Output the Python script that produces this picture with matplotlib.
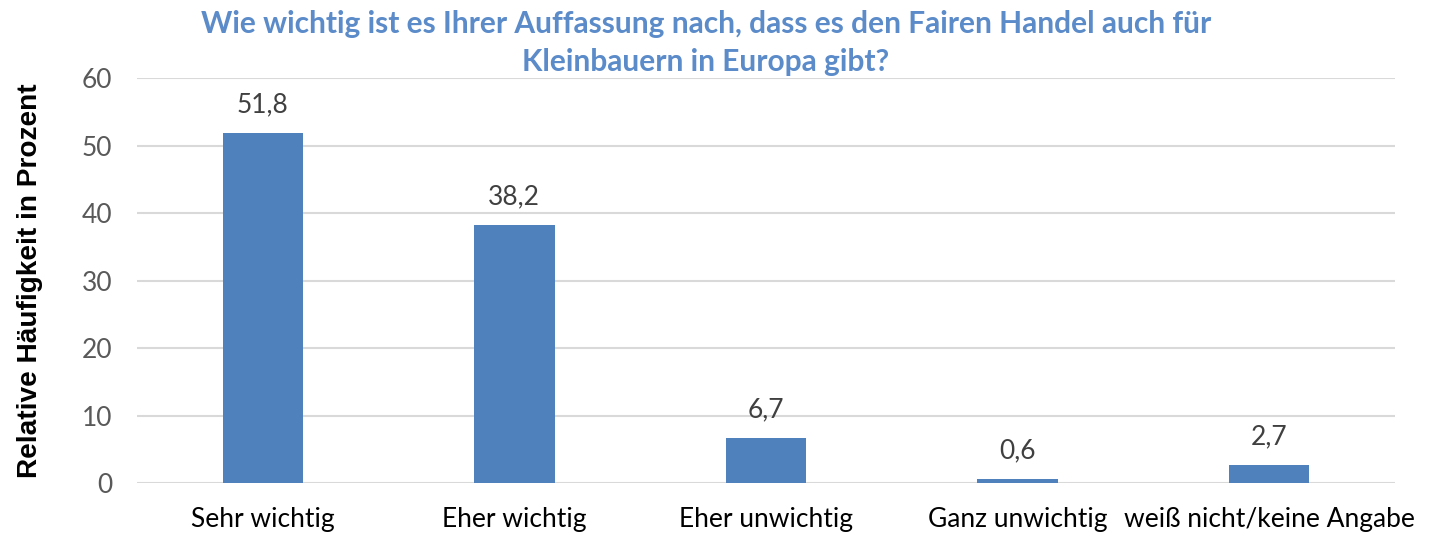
import numpy as np
import matplotlib
matplotlib.use('Agg')
import matplotlib.pyplot as plt

categories = ['Sehr wichtig', 'Eher wichtig', 'Eher unwichtig', 'Ganz unwichtig', 'weiß nicht/keine Angabe']
values = [51.8, 38.2, 6.7, 0.6, 2.7]
value_labels = ['51,8', '38,2', '6,7', '0,6', '2,7']
yticks = [0, 10, 20, 30, 40, 50, 60]

plt.rcParams['font.family'] = ['Lato', 'DejaVu Sans']

fig = plt.figure(figsize=(14.32, 5.35), dpi=100)
ax = fig.add_axes([0.0957, 0.0972, 0.8783, 0.7568])

x = np.arange(len(categories))
ax.bar(x, values, width=0.32, color='#4F81BD', zorder=3)
for xi, v, lab in zip(x, values, value_labels):
    ax.annotate(lab, (xi, v), xytext=(0, 15), textcoords='offset points',
                ha='center', va='baseline', fontsize=19, color='#404040')

ax.set_xlim(-0.5, 4.5)
ax.set_ylim(0, 60)
ax.set_yticks(yticks)
ax.set_yticklabels([str(t) for t in yticks], fontsize=19, color='#595959')
ax.set_xticks(x)
ax.set_xticklabels(categories, fontsize=19, color='black')
ax.tick_params(axis='both', length=0)
ax.tick_params(axis='x', pad=17)
ax.tick_params(axis='y', pad=18)
ax.grid(axis='y', color='#D9D9D9', linewidth=1.5, zorder=0)
for s in ax.spines.values():
    s.set_visible(False)

fig.text(0.021, 0.475, 'Relative Häufigkeit in Prozent', rotation=90, ha='center', va='center',
         fontsize=20.2, fontweight='bold', family='Liberation Sans', color='black')
fig.text(0.493, 0.982, 'Wie wichtig ist es Ihrer Auffassung nach, dass es den Fairen Handel auch für\nKleinbauern in Europa gibt?',
         ha='center', va='top', fontsize=21.5, fontweight='bold', color='#5B8BC9', linespacing=1.45)

fig.savefig('out.png', dpi=100)
